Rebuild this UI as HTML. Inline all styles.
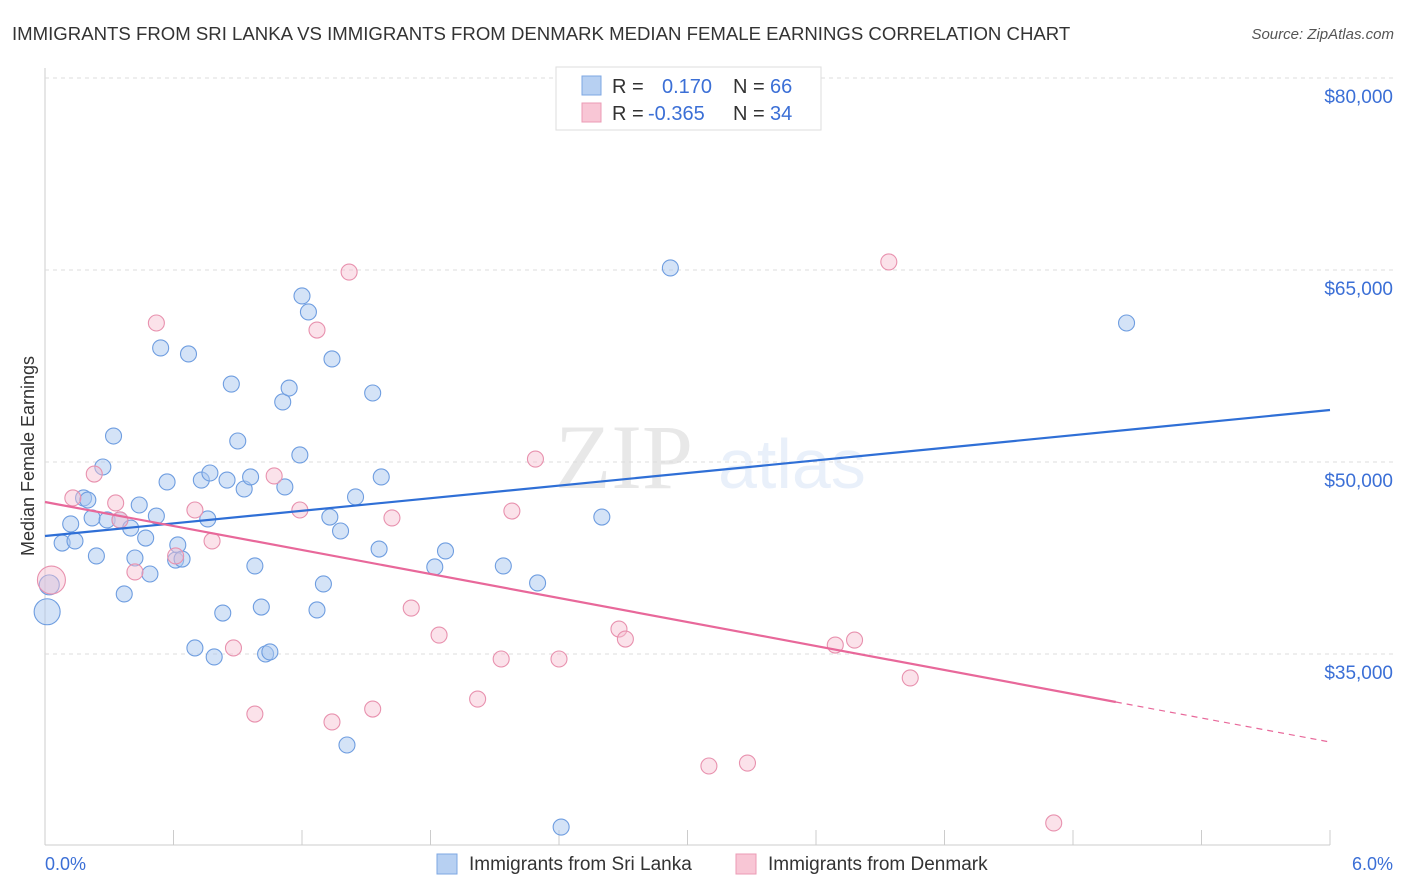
<!DOCTYPE html>
<html><head><meta charset="utf-8"><style>
body{margin:0;background:#fff;font-family:"Liberation Sans",sans-serif;}
svg{display:block}
</style></head><body>
<svg id="chart" width="1406" height="892">
<text x="12" y="40" font-size="18.6" fill="#333">IMMIGRANTS FROM SRI LANKA VS IMMIGRANTS FROM DENMARK MEDIAN FEMALE EARNINGS CORRELATION CHART</text>
<text x="1394" y="39" font-size="15" fill="#555" font-style="italic" text-anchor="end">Source: ZipAtlas.com</text>
<text transform="translate(34,456) rotate(-90)" font-size="18" fill="#333" text-anchor="middle">Median Female Earnings</text>
<g opacity="0.13"><text x="555" y="488" font-size="92" font-family="Liberation Serif,serif" fill="#555">ZIP</text><text x="718" y="488" font-size="70" fill="#5b8fdf">atlas</text></g>
<g id="grid"></g><g id="marks"></g>
<text x="45" y="870" font-size="18" fill="#3b6fd6">0.0%</text>
<text x="1393" y="870" font-size="18" fill="#3b6fd6" text-anchor="end">6.0%</text>
<g>
<rect x="556" y="67" width="265" height="63" fill="#fff" stroke="#ddd"/>
<rect x="582" y="76" width="19" height="19" fill="#b7d0f2" stroke="#7ea7e3"/>
<rect x="582" y="103" width="19" height="19" fill="#f8c6d5" stroke="#eb9bb5"/>
<text x="612" y="93" font-size="20" fill="#333">R = </text><text x="662" y="93" font-size="20" fill="#3b6fd6">0.170</text>
<text x="733" y="93" font-size="20" fill="#333">N = </text><text x="770" y="93" font-size="20" fill="#3b6fd6">66</text>
<text x="612" y="120" font-size="20" fill="#333">R = </text><text x="648" y="120" font-size="20" fill="#3b6fd6">-0.365</text>
<text x="733" y="120" font-size="20" fill="#333">N = </text><text x="770" y="120" font-size="20" fill="#3b6fd6">34</text>
</g>
<g>
<rect x="437" y="854" width="20" height="20" fill="#b7d0f2" stroke="#7ea7e3"/>
<text x="469" y="870" font-size="19" fill="#333">Immigrants from Sri Lanka</text>
<rect x="736" y="854" width="20" height="20" fill="#f8c6d5" stroke="#eb9bb5"/>
<text x="768" y="870" font-size="19" fill="#333">Immigrants from Denmark</text>
</g>
</svg>
<script>
const yTicks=[35000,50000,65000,80000];
const yTickLabels=["$35,000","$50,000","$65,000","$80,000"];
const xTicks=[0,0.6,1.2,1.8,2.4,3,3.6,4.2,4.8,5.4,6];
const blueX=[0.01,0.02,0.08,0.12,0.14,0.18,0.20,0.22,0.24,0.27,0.29,0.32,0.35,0.37,0.40,0.42,0.44,0.47,0.49,0.52,0.54,0.57,0.61,0.62,0.64,0.67,0.70,0.73,0.76,0.77,0.79,0.83,0.85,0.87,0.90,0.93,0.96,0.98,1.01,1.03,1.05,1.11,1.12,1.14,1.19,1.20,1.23,1.27,1.30,1.33,1.34,1.38,1.41,1.45,1.53,1.56,1.57,1.82,1.87,2.14,2.30,2.41,2.60,2.92,5.05];
const blueY=[38300,40400,43670,45160,43830,47190,47030,45630,42660,49610,45470,52030,45470,39690,44840,42500,46640,44060,41250,45780,58910,48440,42340,43520,42420,58440,35470,48590,45550,49140,34770,38200,48590,56090,51640,47890,48830,41880,38670,35000,35160,54690,48050,55780,50550,62970,61720,38440,40470,45700,58050,44610,27890,47270,55390,43200,48830,41800,43050,41880,40550,21480,45700,65160,60860];
const pinkX=[0.03,0.13,0.23,0.33,0.35,0.42,0.52,0.61,0.70,0.78,0.88,0.98,1.07,1.19,1.27,1.34,1.42,1.53,1.62,1.71,1.84,2.02,2.13,2.18,2.29,2.40,2.68,2.71,3.10,3.28,3.69,3.78,3.94,4.04,4.71];
const pinkY=[40780,47190,49060,46800,45470,41410,60860,42660,46250,43830,35470,30310,48910,46250,60310,29690,64840,30700,45630,38590,36480,31480,34610,46170,50230,34610,36950,36170,26250,26480,35700,36090,65630,33130,21800];
const blueTrend=[44220,54060];
const pinkTrend=[46875,28125];
const pinkSolidEnd=5.0;
const X=v=>45+v/6*1285, Y=v=>78+(80000-v)*0.0128;
const ns="http://www.w3.org/2000/svg";
const grid=document.getElementById('grid'),marks=document.getElementById('marks');
function mk(tag,attrs,parent){const e=document.createElementNS(ns,tag);for(const k in attrs)e.setAttribute(k,attrs[k]);parent.appendChild(e);return e;}
let ax=mk('line',{x1:45,y1:68,x2:45,y2:845,stroke:'#ccc'},grid);


let bx=mk('line',{x1:45,y1:845,x2:1330,y2:845,stroke:'#ccc'},grid);


yTicks.forEach((t,i)=>{
 let g=mk('line',{x1:45,x2:1393,y1:Y(t),y2:Y(t),stroke:'#ddd','stroke-dasharray':'4,4'},grid);
 
 
 let l=mk('text',{x:1393,y:Y(t)+25,'font-size':19,fill:'#3b6fd6','text-anchor':'end'},grid);
 l.textContent=yTickLabels[i];
 
 
});
xTicks.forEach(t=>{
 let l=mk('line',{x1:X(t),x2:X(t),y1:830,y2:845,stroke:'#ccc'},grid);
 
 
});
blueX.forEach((x,i)=>{
 let c=mk('circle',{cx:X(x),cy:Y(blueY[i]),r:i<2?(i==0?13:10):8,fill:'rgba(170,199,240,0.5)',stroke:'#6e9de0','stroke-width':1.1},marks);
 
 
});
pinkX.forEach((x,i)=>{
 let c=mk('circle',{cx:X(x),cy:Y(pinkY[i]),r:i==0?14:8,fill:'rgba(247,190,208,0.45)',stroke:'#e891ae','stroke-width':1.1},marks);
 
 
});
let bl=mk('line',{x1:X(0),y1:Y(blueTrend[0]),x2:X(6),y2:Y(blueTrend[1]),stroke:'#2f6fd6','stroke-width':2.2},marks);


const pe=pinkTrend[0]+(pinkTrend[1]-pinkTrend[0])*pinkSolidEnd/6;
let pl=mk('line',{x1:X(0),y1:Y(pinkTrend[0]),x2:X(pinkSolidEnd),y2:Y(pe),stroke:'#e8689a','stroke-width':2.2},marks);


let pd=mk('line',{x1:X(pinkSolidEnd),y1:Y(pe),x2:X(6),y2:Y(pinkTrend[1]),stroke:'#e8689a','stroke-width':1.2,'stroke-dasharray':'6,5'},marks);


</script>
</body></html>
